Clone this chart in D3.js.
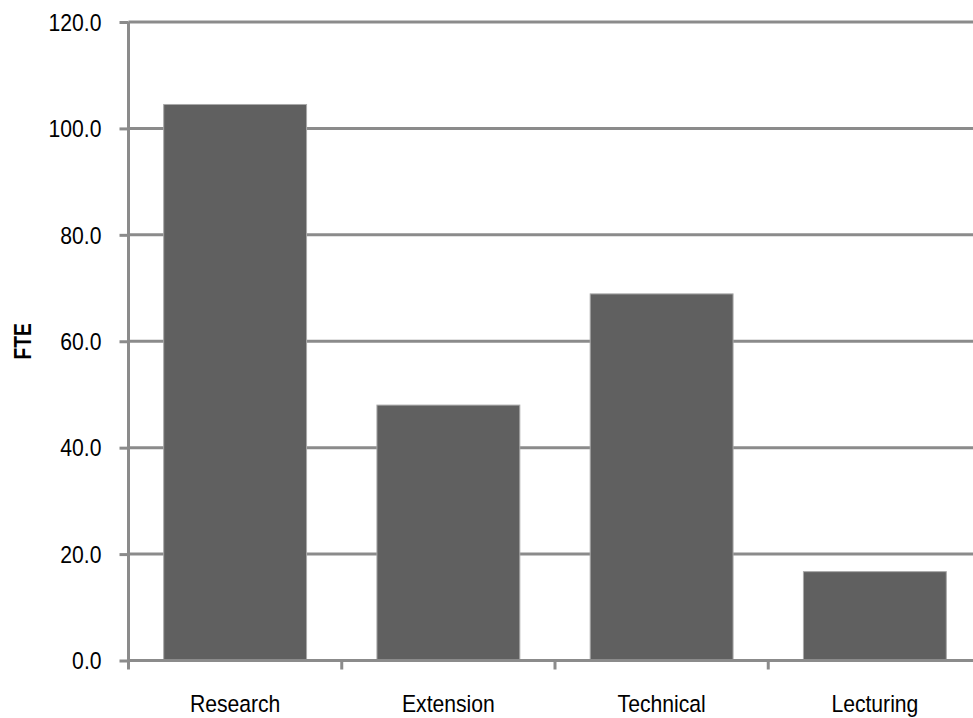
<!DOCTYPE html>
<html>
<head>
<meta charset="utf-8">
<script src="https://cdn.jsdelivr.net/npm/d3@7"></script>
<style>
  html, body { margin: 0; padding: 0; background: #fff; }
  svg { display: block; }
  text { font-family: "Liberation Sans", Arial, sans-serif; fill: #000; }
</style>
</head>
<body>
<svg id="chart" width="973" height="718"></svg>
<script>
// FTE by staff role
const categories = ["Research", "Extension", "Technical", "Lecturing"];
const fteValues = [104.5, 48.0, 68.9, 16.7];
const yTicks = [0, 20, 40, 60, 80, 100, 120];
const yLabel = "FTE";

const svg = d3.select("#chart");
const gridColor = "#8b8b8b";
const barColor = "#606060";
const squeeze = 0.9; // narrow glyph width

const x = d3.scaleBand()
  .domain(categories)
  .range([128.5, 981.5])
  .paddingInner(0.33)
  .paddingOuter(0.165);

const y = d3.scaleLinear()
  .domain([0, 120])
  .range([660.5, 22]);

// horizontal gridlines
svg.append("g")
  .selectAll("line")
  .data(yTicks.filter(d => d > 0))
  .join("line")
  .attr("x1", 128.5)
  .attr("x2", 973)
  .attr("y1", d => y(d))
  .attr("y2", d => y(d))
  .attr("stroke", gridColor)
  .attr("stroke-width", 3);

// bars
svg.append("g")
  .selectAll("rect")
  .data(categories.map((c, i) => ({ c, v: fteValues[i] })))
  .join("rect")
  .attr("x", d => x(d.c))
  .attr("width", x.bandwidth())
  .attr("y", d => y(d.v))
  .attr("height", d => y(0) - y(d.v))
  .attr("fill", barColor)
  .attr("stroke", "#a9a9a9")
  .attr("stroke-width", 1);

// y axis
const yAxis = svg.append("g")
  .attr("transform", "translate(128.5,0)")
  .call(d3.axisLeft(y).tickValues(yTicks).tickFormat(d3.format(".1f")).tickSize(9).tickPadding(0));
yAxis.select(".domain").attr("stroke", gridColor).attr("stroke-width", 3)
  .attr("d", `M0,${y(120)}V${y(0) + 9}`);
yAxis.selectAll(".tick line").attr("stroke", gridColor).attr("stroke-width", 3);
yAxis.selectAll(".tick text")
  .attr("x", -27 / squeeze)
  .attr("dy", "0.35em")
  .attr("transform", `scale(${squeeze},1)`)
  .style("font-size", "23.5px")
  .style("font-family", "'Liberation Sans', Arial, sans-serif")
  .attr("fill", "#111");

// x axis with ticks between categories
const xAxis = svg.append("g")
  .attr("transform", `translate(0,${y(0)})`);
xAxis.append("line")
  .attr("x1", 128.5).attr("x2", 981.5)
  .attr("stroke", gridColor).attr("stroke-width", 3);
const step = x.step();
xAxis.selectAll("line.sep")
  .data(categories.slice(1))
  .join("line")
  .attr("class", "sep")
  .attr("x1", d => x(d) - step * x.paddingInner() / 2)
  .attr("x2", d => x(d) - step * x.paddingInner() / 2)
  .attr("y1", 0).attr("y2", 9)
  .attr("stroke", gridColor).attr("stroke-width", 3);
xAxis.selectAll("text")
  .data(categories)
  .join("text")
  .attr("transform", d => `translate(${x(d) + x.bandwidth() / 2},51) scale(${squeeze},1)`)
  .attr("text-anchor", "middle")
  .attr("fill", "#111")
  .style("font-size", "23.5px")
  .text(d => d);

// y axis title
svg.append("text")
  .attr("transform", `translate(31,${(y(0) + y(120)) / 2}) rotate(-90) scale(0.84,1)`)
  .attr("text-anchor", "middle")
  .style("font-size", "23px")
  .style("font-weight", "bold")
  .text(yLabel);
</script>
</body>
</html>
